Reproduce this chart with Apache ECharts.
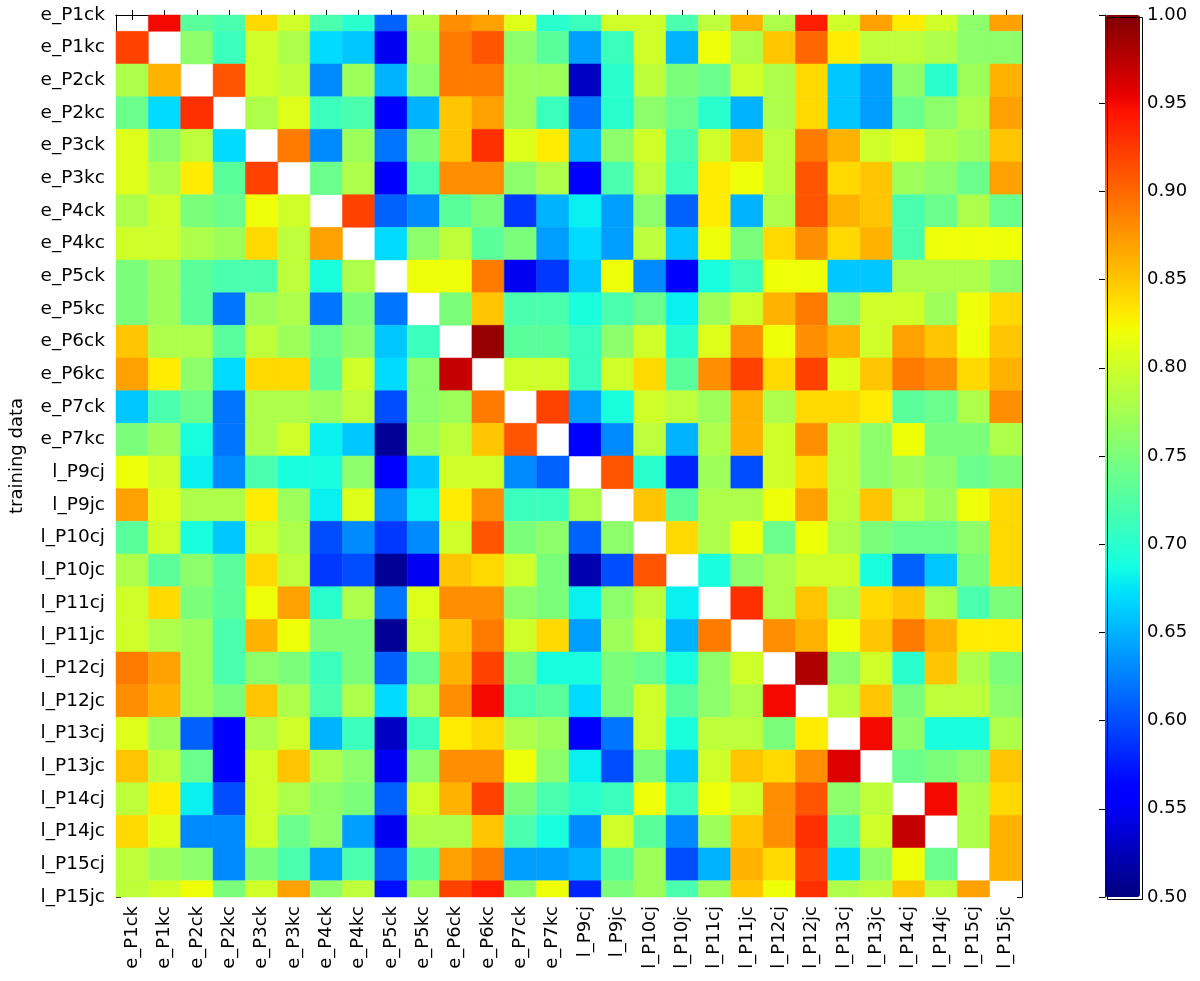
<!DOCTYPE html>
<html>
<head>
<meta charset="utf-8">
<script src="https://cdn.jsdelivr.net/npm/echarts@6/dist/echarts.min.js"></script>
<style>html,body{margin:0;padding:0;background:#fff;}#chart{width:1200px;height:981px;}</style>
</head>
<body>
<div id="chart"></div>
<script>
const labels = ['e_P1ck','e_P1kc','e_P2ck','e_P2kc','e_P3ck','e_P3kc','e_P4ck','e_P4kc','e_P5ck','e_P5kc','e_P6ck','e_P6kc','e_P7ck','e_P7kc','l_P9cj','l_P9jc','l_P10cj','l_P10jc','l_P11cj','l_P11jc','l_P12cj','l_P12jc','l_P13cj','l_P13jc','l_P14cj','l_P14jc','l_P15cj','l_P15jc'];
const colorbarTicks = [0.50,0.55,0.60,0.65,0.70,0.75,0.80,0.85,0.90,0.95,1.00];

const row_e_P1ck = [null,0.95,0.73,0.72,0.84,0.80,0.72,0.70,0.61,0.78,0.88,0.87,0.81,0.70,0.71,0.80,0.80,0.72,0.79,0.86,0.78,0.94,0.80,0.87,0.83,0.80,0.76,0.87];
const row_e_P1kc = [0.92,null,0.76,0.71,0.80,0.78,0.67,0.66,0.55,0.77,0.89,0.91,0.76,0.73,0.64,0.71,0.80,0.65,0.82,0.78,0.85,0.90,0.83,0.79,0.79,0.78,0.76,0.76];
const row_e_P2ck = [0.78,0.86,null,0.91,0.80,0.79,0.63,0.77,0.65,0.76,0.89,0.89,0.77,0.77,0.53,0.70,0.79,0.75,0.74,0.80,0.78,0.84,0.66,0.64,0.76,0.70,0.77,0.86];
const row_e_P2kc = [0.74,0.67,0.93,null,0.78,0.81,0.71,0.72,0.56,0.65,0.85,0.87,0.77,0.71,0.62,0.70,0.76,0.74,0.70,0.65,0.78,0.84,0.66,0.64,0.74,0.76,0.78,0.87];
const row_e_P3ck = [0.81,0.76,0.79,0.67,null,0.89,0.63,0.77,0.62,0.75,0.85,0.93,0.81,0.83,0.65,0.76,0.80,0.72,0.80,0.85,0.79,0.89,0.86,0.80,0.81,0.78,0.77,0.85];
const row_e_P3kc = [0.81,0.78,0.83,0.73,0.92,null,0.74,0.78,0.56,0.72,0.88,0.88,0.76,0.78,0.56,0.72,0.79,0.71,0.83,0.82,0.79,0.91,0.84,0.85,0.77,0.76,0.74,0.87];
const row_e_P4ck = [0.78,0.80,0.75,0.74,0.82,0.80,null,0.92,0.61,0.63,0.73,0.75,0.59,0.65,0.68,0.64,0.76,0.61,0.83,0.65,0.78,0.91,0.86,0.85,0.72,0.74,0.78,0.74];
const row_e_P4kc = [0.80,0.80,0.78,0.77,0.84,0.79,0.87,null,0.67,0.76,0.79,0.73,0.75,0.64,0.67,0.64,0.79,0.66,0.82,0.75,0.84,0.88,0.84,0.86,0.72,0.82,0.82,0.82];
const row_e_P5ck = [0.75,0.77,0.73,0.72,0.72,0.79,0.69,0.78,null,0.82,0.82,0.89,0.55,0.59,0.66,0.82,0.63,0.56,0.69,0.71,0.82,0.82,0.66,0.66,0.78,0.78,0.78,0.76];
const row_e_P5kc = [0.75,0.77,0.73,0.62,0.77,0.78,0.62,0.75,0.62,null,0.75,0.85,0.72,0.72,0.69,0.72,0.74,0.68,0.77,0.80,0.86,0.89,0.76,0.80,0.80,0.77,0.82,0.84];
const row_e_P6ck = [0.85,0.78,0.78,0.73,0.79,0.77,0.74,0.76,0.66,0.71,null,0.99,0.73,0.73,0.71,0.76,0.80,0.70,0.81,0.88,0.82,0.88,0.86,0.80,0.87,0.85,0.82,0.85];
const row_e_P6kc = [0.87,0.83,0.76,0.67,0.84,0.84,0.73,0.80,0.67,0.76,0.97,null,0.80,0.80,0.71,0.80,0.84,0.73,0.88,0.92,0.84,0.92,0.81,0.85,0.89,0.88,0.84,0.86];
const row_e_P7ck = [0.66,0.72,0.74,0.62,0.78,0.78,0.77,0.79,0.60,0.76,0.77,0.89,null,0.92,0.64,0.69,0.80,0.79,0.77,0.86,0.78,0.84,0.84,0.83,0.73,0.74,0.78,0.88];
const row_e_P7kc = [0.75,0.77,0.69,0.62,0.78,0.80,0.68,0.66,0.51,0.77,0.79,0.85,0.91,null,0.56,0.63,0.79,0.65,0.78,0.86,0.80,0.88,0.79,0.76,0.82,0.75,0.75,0.78];
const row_l_P9cj = [0.82,0.80,0.68,0.63,0.72,0.69,0.69,0.76,0.56,0.66,0.80,0.80,0.63,0.61,null,0.91,0.70,0.58,0.77,0.60,0.80,0.84,0.79,0.76,0.77,0.76,0.74,0.75];
const row_l_P9jc = [0.87,0.81,0.78,0.78,0.83,0.77,0.68,0.81,0.63,0.68,0.83,0.88,0.71,0.71,0.78,null,0.85,0.73,0.78,0.78,0.82,0.87,0.79,0.85,0.79,0.77,0.82,0.84];
const row_l_P10cj = [0.73,0.80,0.69,0.66,0.80,0.78,0.60,0.63,0.59,0.63,0.80,0.91,0.75,0.76,0.61,0.76,null,0.84,0.78,0.82,0.74,0.82,0.78,0.75,0.74,0.74,0.76,0.84];
const row_l_P10jc = [0.78,0.73,0.76,0.73,0.84,0.79,0.59,0.60,0.51,0.55,0.85,0.84,0.80,0.75,0.52,0.60,0.91,null,0.69,0.76,0.78,0.80,0.80,0.69,0.61,0.66,0.75,0.84];
const row_l_P11cj = [0.80,0.84,0.75,0.73,0.82,0.87,0.70,0.78,0.62,0.81,0.88,0.88,0.76,0.75,0.68,0.76,0.79,0.68,null,0.93,0.78,0.85,0.78,0.84,0.85,0.78,0.72,0.75];
const row_l_P11jc = [0.80,0.78,0.77,0.72,0.86,0.82,0.75,0.75,0.51,0.80,0.85,0.89,0.80,0.84,0.64,0.77,0.80,0.65,0.89,null,0.88,0.86,0.82,0.85,0.89,0.86,0.83,0.83];
const row_l_P12cj = [0.89,0.87,0.77,0.72,0.76,0.75,0.71,0.75,0.61,0.74,0.86,0.92,0.75,0.69,0.69,0.75,0.74,0.69,0.76,0.80,null,0.98,0.76,0.80,0.70,0.85,0.78,0.75];
const row_l_P12jc = [0.88,0.86,0.77,0.75,0.85,0.78,0.72,0.78,0.67,0.78,0.88,0.95,0.72,0.73,0.67,0.75,0.80,0.73,0.76,0.78,0.95,null,0.79,0.85,0.75,0.79,0.79,0.76];
const row_l_P13cj = [0.81,0.77,0.61,0.56,0.78,0.80,0.65,0.71,0.53,0.71,0.83,0.84,0.78,0.77,0.56,0.62,0.80,0.69,0.79,0.79,0.75,0.83,null,0.95,0.76,0.69,0.69,0.78];
const row_l_P13jc = [0.85,0.79,0.74,0.56,0.80,0.85,0.78,0.76,0.55,0.76,0.88,0.88,0.82,0.76,0.68,0.60,0.75,0.66,0.80,0.85,0.84,0.88,0.96,null,0.74,0.75,0.76,0.85];
const row_l_P14cj = [0.79,0.83,0.68,0.60,0.80,0.78,0.76,0.75,0.61,0.80,0.86,0.92,0.75,0.72,0.70,0.71,0.82,0.71,0.82,0.80,0.88,0.91,0.76,0.79,null,0.95,0.78,0.84];
const row_l_P14jc = [0.84,0.81,0.63,0.63,0.80,0.74,0.76,0.64,0.55,0.78,0.78,0.85,0.72,0.69,0.63,0.80,0.73,0.63,0.77,0.85,0.88,0.93,0.72,0.80,0.97,null,0.78,0.86];
const row_l_P15cj = [0.79,0.77,0.76,0.63,0.75,0.72,0.64,0.72,0.61,0.73,0.87,0.89,0.64,0.64,0.65,0.73,0.77,0.60,0.65,0.86,0.84,0.92,0.67,0.76,0.82,0.74,null,0.86];
const row_l_P15jc = [0.79,0.80,0.82,0.75,0.80,0.87,0.76,0.79,0.57,0.77,0.92,0.94,0.76,0.82,0.58,0.75,0.77,0.72,0.77,0.85,0.82,0.93,0.78,0.79,0.85,0.79,0.87,null];

const rows = [row_e_P1ck,row_e_P1kc,row_e_P2ck,row_e_P2kc,row_e_P3ck,row_e_P3kc,row_e_P4ck,row_e_P4kc,row_e_P5ck,row_e_P5kc,row_e_P6ck,row_e_P6kc,row_e_P7ck,row_e_P7kc,row_l_P9cj,row_l_P9jc,row_l_P10cj,row_l_P10jc,row_l_P11cj,row_l_P11jc,row_l_P12cj,row_l_P12jc,row_l_P13cj,row_l_P13jc,row_l_P14cj,row_l_P14jc,row_l_P15cj,row_l_P15jc];

const data = [];
rows.forEach((vals, r) => vals.forEach((v, c) => { if (v !== null) data.push([c, r, v]); }));

// matplotlib 'jet' colormap
function jet(t) {
  function interp(pts) {
    for (let i = 0; i < pts.length - 1; i++) {
      const a = pts[i], b = pts[i + 1];
      if (t >= a[0] && t <= b[0]) return a[1] + (b[1] - a[1]) * (t - a[0]) / (b[0] - a[0]);
    }
    return pts[pts.length - 1][1];
  }
  const R = interp([[0,0],[0.35,0],[0.66,1],[0.89,1],[1,0.5]]);
  const G = interp([[0,0],[0.125,0],[0.375,1],[0.64,1],[0.91,0],[1,0]]);
  const B = interp([[0,0.5],[0.11,1],[0.34,1],[0.65,0],[1,0]]);
  return 'rgb(' + Math.round(R * 255) + ',' + Math.round(G * 255) + ',' + Math.round(B * 255) + ')';
}
const jetColors = [];
for (let i = 0; i <= 100; i++) jetColors.push(jet(i / 100));

const FONT = 'DejaVu Sans';
const chart = echarts.init(document.getElementById('chart'), null, { renderer: 'canvas' });

function renderItem(params, api) {
  const p = api.coord([api.value(0), api.value(1)]);
  const s = api.size([1, 1]);
  const w = Math.abs(s[0]), h = Math.abs(s[1]);
  const cs = params.coordSys;
  const rect = echarts.graphic.clipRectByRect(
    { x: p[0] - w / 2, y: p[1] - h / 2, width: w, height: h },
    { x: cs.x, y: cs.y, width: cs.width, height: cs.height }
  );
  if (!rect) return null;
  const col = api.visual('color');
  return { type: 'rect', shape: rect, style: { fill: col, stroke: col, lineWidth: 0.5 } };
}

const gridLeft = 107, gridTop = 15, gridW = 915, gridH = 882;
const tickStyle = { show: true, inside: true, length: 5, lineStyle: { color: '#000', width: 1 } };

chart.setOption({
  backgroundColor: '#fff',
  animation: false,
  textStyle: { fontFamily: FONT },
  grid: [
    { left: gridLeft, top: gridTop, width: gridW, height: gridH },
    { left: 1105, top: gridTop, width: 35, height: gridH }
  ],
  xAxis: [
    { type: 'category', gridIndex: 0, data: labels, position: 'bottom',
      axisLine: { show: true, lineStyle: { color: '#000', width: 1 } },
      axisTick: Object.assign({ alignWithLabel: true }, tickStyle),
      axisLabel: { rotate: 90, interval: 0, fontSize: 18, color: '#000', margin: 9, fontFamily: FONT },
      splitLine: { show: false } },
    { type: 'category', gridIndex: 0, data: labels, position: 'top',
      axisLine: { show: true, lineStyle: { color: '#000', width: 1 } },
      axisTick: Object.assign({ alignWithLabel: true }, tickStyle),
      axisLabel: { show: false }, splitLine: { show: false } },
    { type: 'value', gridIndex: 1, show: false, min: 0, max: 1 }
  ],
  yAxis: [
    { type: 'value', gridIndex: 0, min: 0, max: labels.length - 1, interval: 1, inverse: true, position: 'left',
      name: 'training data', nameLocation: 'middle', nameRotate: 90, nameGap: 90,
      nameTextStyle: { fontSize: 18, color: '#000', fontFamily: FONT },
      axisLine: { show: true, lineStyle: { color: '#000', width: 1 } },
      axisTick: tickStyle,
      axisLabel: { fontSize: 18.5, color: '#000', margin: 11, fontFamily: FONT, showMinLabel: true, showMaxLabel: true,
        formatter: v => labels[Math.round(v)] },
      splitLine: { show: false } },
    { type: 'value', gridIndex: 0, min: 0, max: labels.length - 1, interval: 1, inverse: true, position: 'right',
      axisLine: { show: true, lineStyle: { color: '#000', width: 1 } },
      axisTick: tickStyle, axisLabel: { show: false }, splitLine: { show: false } },
    { type: 'value', gridIndex: 1, min: colorbarTicks[0], max: colorbarTicks[colorbarTicks.length - 1], interval: 0.05, position: 'right',
      axisLine: { show: true, lineStyle: { color: '#000', width: 1 } },
      axisTick: { show: true, inside: true, length: 6, lineStyle: { color: '#000' } },
      axisLabel: { fontSize: 18, color: '#000', margin: 7, fontFamily: FONT, showMinLabel: true, showMaxLabel: true,
        formatter: v => v.toFixed(2) },
      splitLine: { show: false } }
  ],
  visualMap: {
    type: 'continuous', min: 0.5, max: 1.0, dimension: 2, seriesIndex: 0,
    calculable: false, realtime: false, hoverLink: false,
    left: 1105, top: gridTop, itemWidth: 35, itemHeight: gridH, padding: 0,
    text: null, showLabel: false,
    inRange: { color: jetColors }
  },
  graphic: [
    { type: 'rect', left: 1105, top: gridTop, z: 100, silent: true,
      shape: { width: 35, height: gridH }, style: { fill: 'none', stroke: '#000', lineWidth: 1 } }
  ],
  series: [
    { type: 'custom', xAxisIndex: 0, yAxisIndex: 0, renderItem: renderItem,
      dimensions: ['col', 'row', 'value'], encode: { x: 0, y: 1 }, data: data }
  ]
});
</script>
</body>
</html>
